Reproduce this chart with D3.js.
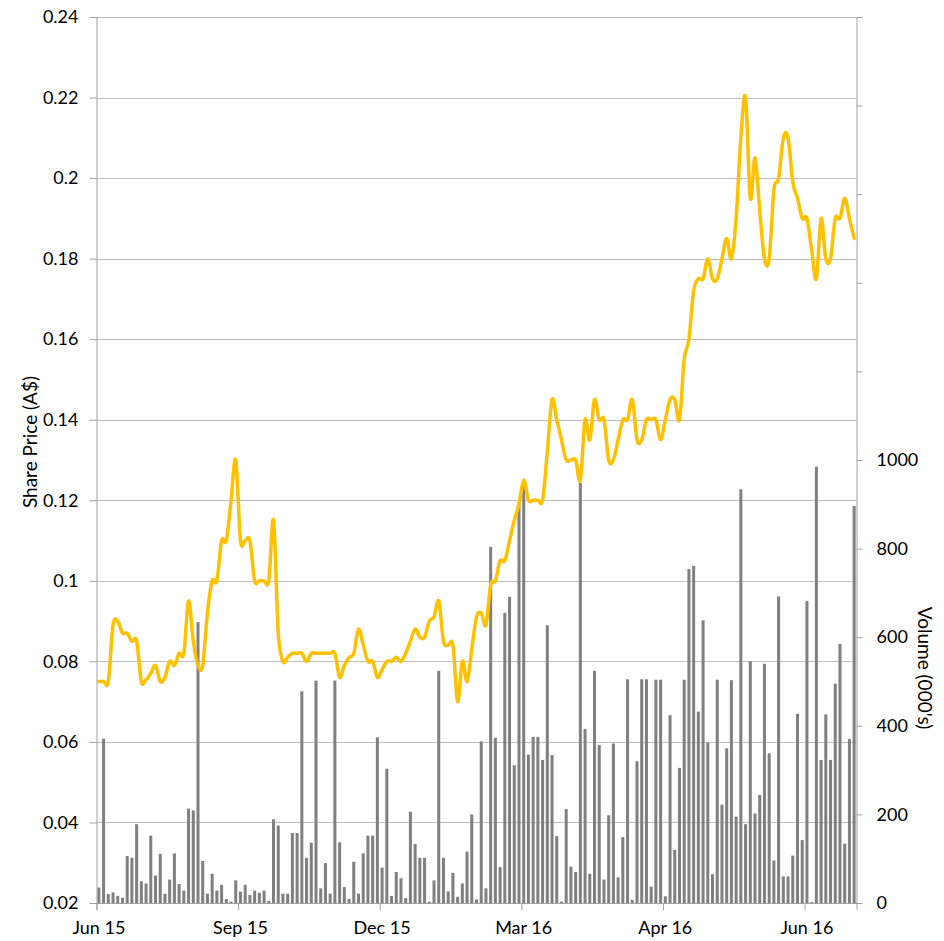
<!DOCTYPE html>
<html>
<head>
<meta charset="utf-8">
<script src="https://cdnjs.cloudflare.com/ajax/libs/d3/7.8.5/d3.min.js"></script>
<style>
  html, body { margin: 0; padding: 0; background: #ffffff; }
  svg text { font-family: Lato, "Open Sans", sans-serif; fill: #000; }
</style>
</head>
<body>
<svg id="chart" width="944" height="941"></svg>
<script>
// ---- data ----
const xTickLabels = ["Jun 15", "Sep 15", "Dec 15", "Mar 16", "Apr 16", "Jun 16"];
const xTickEvery = 30;

const volume = [
  35, 371, 20, 24, 16, 12, 106, 102, 178, 49,
  44, 152, 62, 111, 21, 53, 112, 43, 28, 213,
  209, 634, 95, 21, 66, 28, 41, 9, 3, 51,
  26, 41, 18, 28, 23, 28, 5, 189, 175, 21,
  21, 158, 158, 478, 102, 136, 502, 33, 90, 21,
  502, 137, 36, 9, 93, 21, 112, 152, 152, 374,
  80, 303, 16, 70, 56, 11, 206, 133, 102, 102,
  3, 51, 524, 102, 26, 68, 14, 44, 116, 200,
  8, 365, 33, 804, 373, 81, 655, 691, 311, 904,
  941, 335, 375, 375, 323, 627, 334, 151, 3, 212,
  82, 70, 948, 393, 66, 524, 357, 53, 198, 360,
  58, 149, 505, 7, 320, 505, 505, 37, 504, 504,
  15, 424, 120, 305, 504, 754, 761, 432, 638, 362,
  65, 504, 222, 349, 503, 195, 934, 178, 546, 202,
  244, 540, 338, 96, 692, 60, 60, 107, 427, 142,
  682, 2, 985, 323, 426, 323, 495, 585, 134, 370,
  896
];

const price = [
  0.075, 0.075, 0.075, 0.089, 0.090, 0.087, 0.087, 0.085, 0.085, 0.075,
  0.0755, 0.077, 0.079, 0.075, 0.076, 0.080, 0.079, 0.082, 0.082, 0.095,
  0.085, 0.079, 0.079, 0.092, 0.100, 0.100, 0.110, 0.110, 0.120, 0.130,
  0.110, 0.110, 0.110, 0.100, 0.100, 0.100, 0.100, 0.115, 0.087, 0.080,
  0.081, 0.082, 0.082, 0.082, 0.080, 0.082, 0.082, 0.082, 0.082, 0.082,
  0.082, 0.076, 0.079, 0.081, 0.082, 0.088, 0.084, 0.080, 0.080, 0.076,
  0.078, 0.080, 0.080, 0.081, 0.080, 0.082, 0.085, 0.088, 0.086, 0.086,
  0.090, 0.091, 0.095, 0.085, 0.084, 0.084, 0.070, 0.080, 0.075, 0.083,
  0.091, 0.092, 0.089, 0.099, 0.100, 0.105, 0.105, 0.110, 0.115, 0.119,
  0.125, 0.120, 0.120, 0.120, 0.120, 0.132, 0.145, 0.140, 0.135, 0.130,
  0.130, 0.130, 0.125, 0.140, 0.135, 0.145, 0.140, 0.140, 0.130, 0.130,
  0.135, 0.140, 0.140, 0.145, 0.135, 0.135, 0.140, 0.140, 0.140, 0.135,
  0.140, 0.145, 0.145, 0.140, 0.155, 0.160, 0.172, 0.175, 0.175, 0.180,
  0.175, 0.175, 0.180, 0.185, 0.180, 0.190, 0.210, 0.220, 0.195, 0.205,
  0.192, 0.180, 0.180, 0.197, 0.200, 0.210, 0.210, 0.199, 0.195, 0.190,
  0.190, 0.182, 0.175, 0.190, 0.180, 0.180, 0.190, 0.190, 0.195, 0.190,
  0.185
];

const priceTicks = [0.02, 0.04, 0.06, 0.08, 0.1, 0.12, 0.14, 0.16, 0.18, 0.2, 0.22, 0.24];
const volumeTicks = [0, 200, 400, 600, 800, 1000, 1200, 1400, 1600, 1800, 2000];
const volumeLabelled = [0, 200, 400, 600, 800, 1000];

// ---- layout ----
const plot = { left: 96.5, right: 856.5, top: 17, bottom: 903 };
const svg = d3.select("#chart");

const idx = d3.range(volume.length);
const x = d3.scaleBand()
  .domain(idx)
  .range([plot.left, plot.right])
  .paddingInner(0.36)
  .paddingOuter(0.18);
const yP = d3.scaleLinear().domain([0.02, 0.24]).range([plot.bottom, plot.top]);
const yV = d3.scaleLinear().domain([0, 2000]).range([plot.bottom, plot.top]);

const gridColor = "#bdbdbd";
const axisColor = "#a0a0a0";
const fontSize = 18;
const fontFam = "Lato, 'Open Sans', sans-serif";

// gridlines
svg.append("g").selectAll("line")
  .data(priceTicks.filter(d => d > 0.02))
  .join("line")
  .attr("x1", plot.left).attr("x2", plot.right)
  .attr("y1", d => Math.round(yP(d)) + 0.5).attr("y2", d => Math.round(yP(d)) + 0.5)
  .attr("stroke", gridColor).attr("stroke-width", 1);

// bars
svg.append("g").selectAll("rect")
  .data(idx)
  .join("rect")
  .attr("x", i => x(i))
  .attr("width", x.bandwidth())
  .attr("y", i => yV(volume[i]))
  .attr("height", i => yV(0) - yV(volume[i]))
  .attr("fill", "#808080");

// left axis
const gL = svg.append("g").attr("transform", `translate(${plot.left},0)`)
  .call(d3.axisLeft(yP).tickValues(priceTicks).tickSize(7).tickPadding(11)
    .tickFormat(d => d3.format("")(+d.toFixed(2))));
gL.select(".domain").attr("stroke", axisColor);
gL.selectAll(".tick line").attr("stroke", axisColor);
gL.selectAll(".tick text").attr("font-size", fontSize).attr("font-family", fontFam).attr("fill", "#000");

// right axis
const gR = svg.append("g").attr("transform", `translate(${plot.right},0)`)
  .call(d3.axisRight(yV).tickValues(volumeTicks).tickSize(6).tickPadding(14)
    .tickFormat(d => volumeLabelled.includes(d) ? d3.format("d")(d) : ""));
gR.select(".domain").attr("stroke", axisColor);
gR.selectAll(".tick line").attr("stroke", axisColor);
gR.selectAll(".tick text").attr("font-size", fontSize).attr("font-family", fontFam).attr("fill", "#000");

// bottom axis
const tickIdx = xTickLabels.map((_, k) => k * xTickEvery);
const gB = svg.append("g").attr("transform", `translate(0,${plot.bottom})`)
  .call(d3.axisBottom(x).tickValues(tickIdx).tickSize(7).tickPadding(11)
    .tickFormat((d, k) => xTickLabels[k]));
gB.select(".domain").attr("stroke", axisColor);
gB.selectAll(".tick line").attr("stroke", axisColor)
  .attr("transform", `translate(${-x.step() / 2 + 0.5},0)`);
gB.selectAll(".tick text").attr("font-size", fontSize).attr("font-family", fontFam).attr("fill", "#000");

// price line
const line = d3.line()
  .x(i => x(i) + x.bandwidth() / 2)
  .y(i => yP(price[i]))
  .curve(d3.curveCardinal.tension(0));
svg.append("path")
  .datum(idx)
  .attr("d", line)
  .attr("fill", "none")
  .attr("stroke", "#FFC000")
  .attr("stroke-width", 3.5)
  .attr("stroke-linejoin", "round")
  .attr("stroke-linecap", "round");

// axis titles
svg.append("text")
  .attr("transform", `translate(37,442) rotate(-90)`)
  .attr("text-anchor", "middle")
  .attr("font-size", 19)
  .attr("font-family", fontFam)
  .text("Share Price (A$)");
svg.append("text")
  .attr("transform", `translate(918,668) rotate(90)`)
  .attr("text-anchor", "middle")
  .attr("font-size", 19)
  .attr("font-family", fontFam)
  .text("Volume (000's)");
</script>
</body>
</html>
